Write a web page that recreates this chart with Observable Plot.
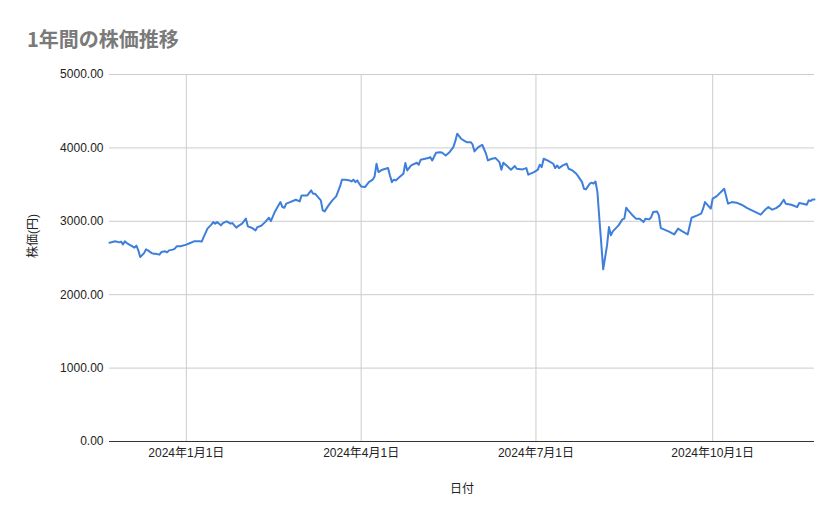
<!DOCTYPE html>
<html>
<head>
<meta charset="utf-8">
<script src="https://cdn.jsdelivr.net/npm/d3@7"></script>
<script src="https://cdn.jsdelivr.net/npm/@observablehq/plot@0.6"></script>
<style>
  html, body { margin: 0; padding: 0; background: #fff; }
  #wrap { position: relative; width: 839px; height: 519px; }
  #title { position: absolute; left: 27px; top: 24px; font-family: "Noto Sans CJK JP", sans-serif; font-size: 20px; font-weight: bold; color: #7a7a7a; white-space: nowrap; }
</style>
</head>
<body>
<div id="wrap">
  <div id="chart"></div>
  <div id="title">1年間の株価推移</div>
</div>
<script>
const titleText = "1年間の株価推移";
const xTitle = "日付";
const yTitle = "株価(円)";

const dates = [
  "2023-11-22","2023-11-25","2023-11-27","2023-11-28","2023-11-29","2023-11-30","2023-12-01","2023-12-03","2023-12-05","2023-12-06",
  "2023-12-07","2023-12-08","2023-12-10","2023-12-11","2023-12-12","2023-12-14","2023-12-15","2023-12-16","2023-12-18","2023-12-19",
  "2023-12-21","2023-12-22","2023-12-23","2023-12-25","2023-12-26","2023-12-27","2023-12-29","2024-01-01","2024-01-03","2024-01-05",
  "2024-01-08","2024-01-09","2024-01-10","2024-01-12","2024-01-14","2024-01-15","2024-01-16","2024-01-17","2024-01-19","2024-01-20",
  "2024-01-22","2024-01-24","2024-01-25","2024-01-27","2024-01-28","2024-01-30","2024-02-01","2024-02-02","2024-02-04","2024-02-06",
  "2024-02-07","2024-02-09","2024-02-11","2024-02-13","2024-02-14","2024-02-16","2024-02-18","2024-02-19","2024-02-20","2024-02-21",
  "2024-02-22","2024-02-24","2024-02-27","2024-02-29","2024-03-01","2024-03-04","2024-03-06","2024-03-07","2024-03-08","2024-03-11",
  "2024-03-12","2024-03-13","2024-03-15","2024-03-17","2024-03-19","2024-03-21","2024-03-22","2024-03-24","2024-03-26","2024-03-27",
  "2024-03-28","2024-03-29","2024-03-30","2024-03-31","2024-04-01","2024-04-03","2024-04-05","2024-04-07","2024-04-08","2024-04-09",
  "2024-04-10","2024-04-12","2024-04-15","2024-04-16","2024-04-17","2024-04-18","2024-04-19","2024-04-21","2024-04-23","2024-04-24",
  "2024-04-25","2024-04-27","2024-04-30","2024-05-01","2024-05-02","2024-05-06","2024-05-07","2024-05-08","2024-05-10","2024-05-12",
  "2024-05-13","2024-05-15","2024-05-17","2024-05-19","2024-05-20","2024-05-21","2024-05-23","2024-05-25","2024-05-26","2024-05-28",
  "2024-05-29","2024-05-30","2024-06-01","2024-06-03","2024-06-05","2024-06-06","2024-06-08","2024-06-10","2024-06-12","2024-06-13",
  "2024-06-14","2024-06-16","2024-06-18","2024-06-20","2024-06-21","2024-06-24","2024-06-26","2024-06-27","2024-06-30","2024-07-02",
  "2024-07-03","2024-07-04","2024-07-05","2024-07-07","2024-07-10","2024-07-11","2024-07-12","2024-07-13","2024-07-15","2024-07-17",
  "2024-07-18","2024-07-20","2024-07-22","2024-07-23","2024-07-25","2024-07-26","2024-07-27","2024-07-29","2024-07-30","2024-07-31",
  "2024-08-01","2024-08-02","2024-08-03","2024-08-04","2024-08-05","2024-08-07","2024-08-08","2024-08-09","2024-08-10","2024-08-13",
  "2024-08-15","2024-08-16","2024-08-17","2024-08-18","2024-08-20","2024-08-22","2024-08-24","2024-08-26","2024-08-27","2024-08-29",
  "2024-08-30","2024-08-31","2024-09-02","2024-09-03","2024-09-04","2024-09-08","2024-09-11","2024-09-13","2024-09-15","2024-09-18",
  "2024-09-20","2024-09-23","2024-09-25","2024-09-26","2024-09-27","2024-09-30","2024-10-01","2024-10-03","2024-10-07","2024-10-09",
  "2024-10-11","2024-10-14","2024-10-16","2024-10-19","2024-10-26","2024-10-28","2024-10-30","2024-11-01","2024-11-03","2024-11-05",
  "2024-11-07","2024-11-08","2024-11-11","2024-11-14","2024-11-15","2024-11-17","2024-11-19","2024-11-20","2024-11-21","2024-11-22",
  "2024-11-23"
];

const prices = [
  2709,2727,2713,2723,2686,2727,2704,2672,2641,2668,
  2604,2513,2567,2618,2604,2567,2559,2559,2546,2581,
  2591,2577,2604,2614,2627,2659,2659,2682,2704,2727,
  2727,2723,2785,2900,2954,2989,2968,2989,2945,2976,
  2999,2968,2976,2913,2935,2968,3036,2931,2913,2876,
  2921,2940,2989,3049,3003,3126,3217,3262,3194,3185,
  3240,3262,3294,3271,3353,3353,3421,3376,3376,3285,
  3149,3135,3217,3285,3339,3475,3567,3567,3557,3543,
  3567,3534,3557,3512,3475,3466,3534,3567,3612,3784,
  3670,3703,3725,3625,3534,3567,3557,3602,3648,3793,
  3693,3761,3798,3771,3839,3861,3874,3829,3934,3942,
  3938,3897,3942,4010,4092,4193,4125,4092,4078,4078,
  4047,3952,4010,4043,3921,3829,3852,3861,3806,3703,
  3798,3752,3703,3752,3716,3707,3725,3635,3670,3703,
  3771,3738,3852,3829,3784,3725,3761,3725,3761,3784,
  3716,3693,3648,3612,3534,3444,3435,3512,3526,3512,
  3543,3398,3036,2695,2346,2672,2921,2808,2863,2945,
  3026,3036,3185,3149,3090,3036,3036,2989,3036,3026,
  3058,3126,3135,3081,2908,2863,2822,2900,2867,2822,
  3049,3081,3104,3172,3262,3172,3308,3339,3444,3240,
  3262,3248,3226,3180,3090,3149,3194,3158,3180,3217,
  3294,3240,3226,3194,3248,3240,3226,3285,3276,3298,
  3298
];

const xTickDates = ["2024-01-01","2024-04-01","2024-07-01","2024-10-01"];
const xTickLabels = ["2024年1月1日","2024年4月1日","2024年7月1日","2024年10月1日"];
const yTicks = [0, 1000, 2000, 3000, 4000, 5000];
const yTickLabels = ["0.00","1000.00","2000.00","3000.00","4000.00","5000.00"];

const data = dates.map((d, i) => ({date: new Date(d + "T00:00:00Z"), price: prices[i]}));
const xTicks = xTickDates.map(d => new Date(d + "T00:00:00Z"));
const xLabelOf = new Map(xTicks.map((d, i) => [+d, xTickLabels[i]]));
const yLabelOf = new Map(yTicks.map((v, i) => [v, yTickLabels[i]]));

const font = '"Liberation Sans", "Noto Sans CJK JP", sans-serif';

const chart = Plot.plot({
  width: 839,
  height: 519,
  marginLeft: 109,
  marginRight: 25,
  marginTop: 74,
  marginBottom: 78,
  style: {fontFamily: font, fontSize: "12px", color: "#222", background: "#fff"},
  x: {type: "utc", domain: d3.extent(data, d => d.date)},
  y: {domain: [0, 5000]},
  marks: [
    Plot.ruleY(yTicks.filter(v => v !== 0), {stroke: "#cccccc", strokeWidth: 1}),
    Plot.ruleX(xTicks, {stroke: "#cccccc", strokeWidth: 1}),
    Plot.axisY({ticks: yTicks, tickSize: 0, tickPadding: 6, tickFormat: v => yLabelOf.get(v), label: null, fill: "#222"}),
    Plot.axisX({ticks: xTicks, tickSize: 0, tickPadding: 7, tickFormat: d => xLabelOf.get(+d), label: null, fill: "#222"}),
    Plot.ruleY([0], {stroke: "#333", strokeWidth: 1}),
    Plot.lineY(data, {x: "date", y: "price", stroke: "#3f7fdc", strokeWidth: 2, strokeLinejoin: "round", curve: "linear"}),
    Plot.text([yTitle], {frameAnchor: "left", dx: -76, rotate: -90, fill: "#222", fontSize: 12, lineAnchor: "middle"}),
    Plot.text([xTitle], {frameAnchor: "bottom", dy: 48, fill: "#222", fontSize: 12, lineAnchor: "middle"})
  ]
});
document.getElementById("chart").appendChild(chart);
document.getElementById("title").textContent = titleText;
</script>
</body>
</html>
